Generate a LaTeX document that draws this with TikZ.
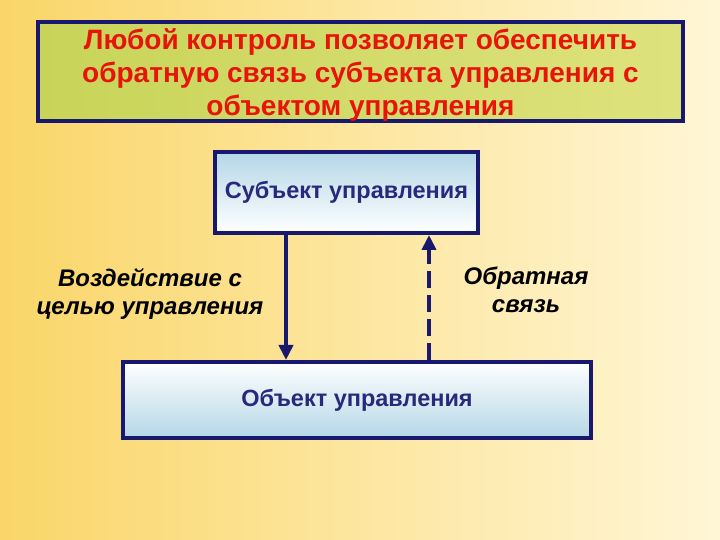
\documentclass[tikz,border=0pt]{standalone}
\usepackage{fontspec}
\setmainfont{Liberation Sans}
\usetikzlibrary{arrows.meta}
\definecolor{navyline}{RGB}{24,24,110}
\definecolor{boxtext}{RGB}{40,40,125}
\definecolor{headred}{RGB}{230,20,10}
\definecolor{bgleft}{RGB}{250,214,105}
\definecolor{bgright}{RGB}{255,246,214}
\definecolor{headleft}{RGB}{200,212,88}
\definecolor{headright}{RGB}{222,226,125}
\definecolor{paleblue}{RGB}{180,215,230}
\begin{document}
\begin{tikzpicture}[x=1pt,y=1pt,
  framebox/.style={draw=navyline,line width=4pt,rectangle,inner sep=0pt},
  unitbox/.style={framebox,font=\fontsize{23.5}{26}\selectfont\bfseries,text=boxtext},
  arrowline/.style={draw=navyline,line width=4pt,-{Triangle[length=15pt,width=14pt]}},
  caption/.style={font=\fontsize{24}{28}\selectfont\bfseries\itshape,align=center}]
\useasboundingbox (0,0) rectangle (720,540);
\shade[left color=bgleft,right color=bgright] (0,0) rectangle (720,540);
% heading
\node[framebox,left color=headleft,right color=headright,minimum width=645,minimum height=99,
  text=headred,align=center,font=\fontsize{28}{33}\selectfont\bfseries] (head) at (360.5,468.5)
  {\rule{0pt}{27pt}Любой контроль позволяет обеспечить\\обратную связь субъекта управления с\\объектом управления};
% the two boxes
\node[unitbox,top color=paleblue,bottom color=white,minimum width=263,minimum height=81] (subj) at (346.5,347.5) {Субъект управления};
\node[unitbox,top color=white,bottom color=paleblue,minimum width=468,minimum height=76] (obj) at (357,140) {Объект управления};
% connectors
\draw[arrowline] ([xshift=-60.5pt]subj.south) -- ([xshift=-60.5pt]subj.south |- obj.north);
\draw[arrowline,dash pattern=on 17pt off 7pt] ([xshift=82.5pt]subj.south |- obj.north) -- ([xshift=82.5pt]subj.south);
\node[caption] (act) at (150,246) {Воздействие с\\целью управления};
\node[caption] (fb) at (526,250.5) {Обратная\\связь};
\end{tikzpicture}
\end{document}
